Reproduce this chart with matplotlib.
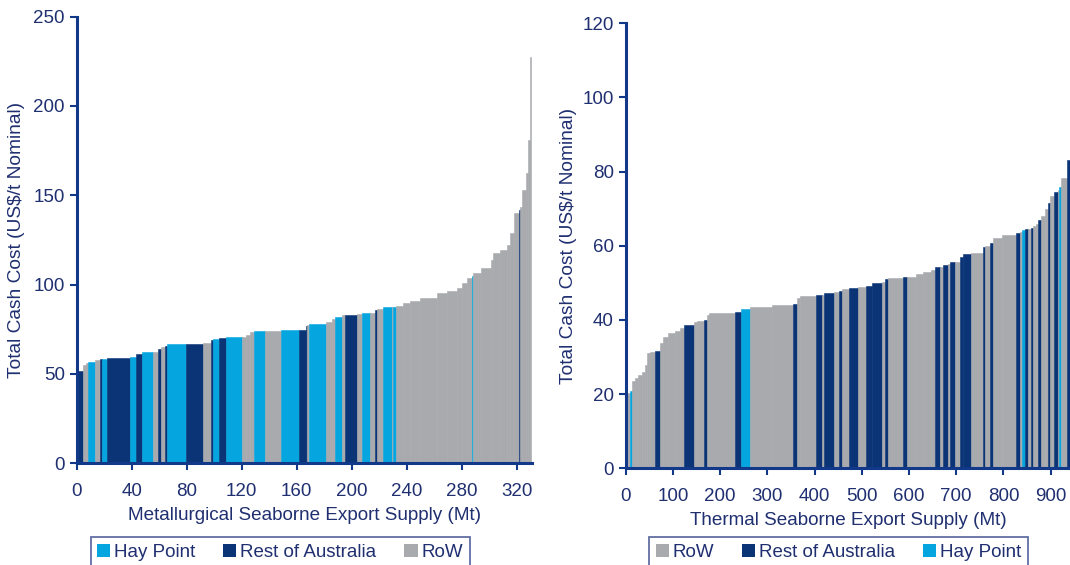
import matplotlib
matplotlib.use("Agg")
import matplotlib.pyplot as plt
from matplotlib.patches import Patch
import numpy as np

plt.rcParams['font.family'] = ['Liberation Sans', 'DejaVu Sans']

# region codes: H = Hay Point, A = Rest of Australia, R = RoW
colours = {'H': '#05a6e0', 'A': '#0a3475', 'R': '#a9aaae'}
names = {'H': 'Hay Point', 'A': 'Rest of Australia', 'R': 'RoW'}
ink = '#1f2f70'
spine = '#12388a'

# metallurgical coal cost curve (Mt, US$/t, region)
met_mt = [4.8, 1.7, 1.5, 5.3, 3.6, 1.3, 3.6, 17.0, 4.3, 4.2,
          8.4, 3.7, 1.7, 3.1, 1.2, 14.1, 12.6, 5.3, 2.0, 4.1,
          5.1, 11.4, 3.1, 2.9, 3.0, 8.0, 11.4, 13.6, 4.8, 0.7,
          1.7, 12.1, 4.2, 2.4, 4.9, 2.4, 8.5, 3.6, 6.1, 3.6,
          1.2, 4.8, 6.1, 1.2, 1.7, 5.6, 4.8, 7.3, 12.1, 7.3,
          7.3, 3.6, 4.0, 3.6, 0.6, 5.5, 7.3, 2.0, 5.0, 5.0,
          2.5, 2.5, 3.6, 0.6, 1.8, 2.5, 1.7, 1.2, 1.0]
met_cost = [51.9, 55.0, 56.0, 56.9, 57.8, 58.4, 58.4, 58.8, 59.3, 61.2,
            62.1, 62.5, 63.8, 65.3, 65.8, 66.8, 66.8, 67.5, 69.0, 69.4,
            70.3, 70.9, 70.9, 71.8, 73.3, 73.9, 74.3, 74.6, 74.6, 77.0,
            77.4, 78.0, 79.3, 80.8, 82.1, 83.0, 83.0, 83.6, 84.0, 84.3,
            85.8, 86.2, 87.3, 87.5, 87.7, 88.2, 89.6, 90.9, 92.4, 95.2,
            96.6, 98.0, 100.8, 103.6, 105.0, 106.4, 109.2, 113.8, 117.6, 119.4,
            122.2, 128.8, 140.0, 142.0, 143.7, 153.0, 162.4, 181.0, 227.7]
met_region = list("ARRHRAHAHA"
                  "HRARAHARAH"
                  "AHRRRHRHAA"
                  "RHRRHRARHR"
                  "ARHRHRRRRR"
                  "RRRRHRRRRR"
                  "RRRARRRRR")

# thermal coal cost curve
thm_mt = [9, 5, 5.6, 7, 7.1, 7.1, 3.5, 7.1, 10.6, 10.6,
          7, 10.6, 14.1, 10.6, 9.1, 20.6, 5.6, 15.6, 5.6, 5.6,
          54.5, 12, 19.8, 46, 44.3, 8.4, 7, 35, 11, 5,
          22, 10, 7, 14.5, 19, 16.3, 12, 21.2, 7, 7,
          30.5, 8.5, 20, 15, 17, 8, 11, 7, 10, 3,
          11, 10, 7, 18, 25, 5, 9, 7, 18, 30,
          9, 5, 5, 7, 7, 4, 5, 5, 7, 7,
          7, 5, 9, 7, 2, 4, 14, 5, 3]
thm_cost = [20.2, 20.9, 23.4, 24.3, 25.2, 26.0, 27.9, 31.0, 31.4, 31.7,
            33.7, 35.5, 36.4, 37.1, 37.8, 38.6, 39.5, 39.8, 39.9, 41.3,
            41.8, 42.1, 42.9, 43.4, 44.0, 44.3, 45.8, 46.5, 46.7, 46.8,
            47.2, 47.6, 47.7, 48.3, 48.5, 48.8, 49.2, 49.9, 50.1, 51.0,
            51.2, 51.5, 51.7, 52.4, 53.0, 53.4, 54.2, 54.4, 54.8, 55.0,
            55.5, 55.7, 57.1, 57.7, 58.1, 59.8, 60.0, 60.7, 62.0, 62.9,
            63.5, 63.8, 64.2, 64.4, 64.6, 64.9, 65.2, 66.0, 67.0, 68.0,
            70.0, 71.5, 73.3, 74.6, 75.0, 75.9, 78.2, 83.2, 86.0]
thm_region = list("RHRRRRRRRA"
                  "RRRRRARRAR"
                  "RAHRRARRAR"
                  "ARARARAARA"
                  "RARRRRARAR"
                  "ARAARARARR"
                  "ARHARARRAR"
                  "RARARHRAA")


def cost_curve(ax, mt, cost, region, xmax, ymax, xstep, ystep, xlabel):
    left = np.concatenate([[0], np.cumsum(mt)[:-1]])
    cols = [colours[r] for r in region]
    ax.bar(left, cost, width=mt, align='edge', color=cols,
           edgecolor=cols, linewidth=0.4, zorder=1)
    ax.set_xlim(0, xmax)
    ax.set_ylim(0, ymax)
    ax.set_xticks(np.arange(0, xmax, xstep))
    ax.set_yticks(np.arange(0, ymax + 1, ystep))
    for s in ['top', 'right']:
        ax.spines[s].set_visible(False)
    for s in ['left', 'bottom']:
        ax.spines[s].set_color(spine)
        ax.spines[s].set_linewidth(2.2)
        ax.spines[s].set_zorder(3)
    ax.tick_params(colors=spine, labelcolor=ink, labelsize=13.5,
                   length=5, width=1.5, direction='out')
    ax.tick_params(axis='x', pad=9.5)
    ax.set_xlabel(xlabel, color=ink, fontsize=13.6, labelpad=5)
    ax.set_ylabel('Total Cash Cost (US$/t Nominal)', color=ink,
                  fontsize=13.8)


fig = plt.figure(figsize=(10.7, 5.65), dpi=100)
ax1 = fig.add_axes([0.0717, 0.18, 0.4253, 0.7905])
ax2 = fig.add_axes([0.5848, 0.1712, 0.4152, 0.7876])

cost_curve(ax1, met_mt, met_cost, met_region, 331, 250, 40, 50,
           'Metallurgical Seaborne Export Supply (Mt)')
cost_curve(ax2, thm_mt, thm_cost, thm_region, 941, 120, 100, 20,
           'Thermal Seaborne Export Supply (Mt)')
ax1.yaxis.set_label_coords(-0.114, 0.5)
ax2.yaxis.set_label_coords(-0.110, 0.5)


def legend_box(order, xc):
    handles = [Patch(facecolor=colours[k], edgecolor='none', label=names[k])
               for k in order]
    leg = fig.legend(handles=handles, loc='upper center',
                     bbox_to_anchor=(xc, 0.0496), ncol=3, fontsize=13.5,
                     frameon=True, fancybox=False, handlelength=0.7,
                     handleheight=0.7, handletextpad=0.2, columnspacing=1.5,
                     borderpad=0.35, borderaxespad=0)
    leg.get_frame().set_edgecolor('#3a4b8c')
    leg.get_frame().set_linewidth(1.3)
    for t in leg.get_texts():
        t.set_color(ink)


legend_box('HAR', 280 / 1070)
legend_box('RAH', 838.5 / 1070)

fig.savefig('out.png', dpi=100)
